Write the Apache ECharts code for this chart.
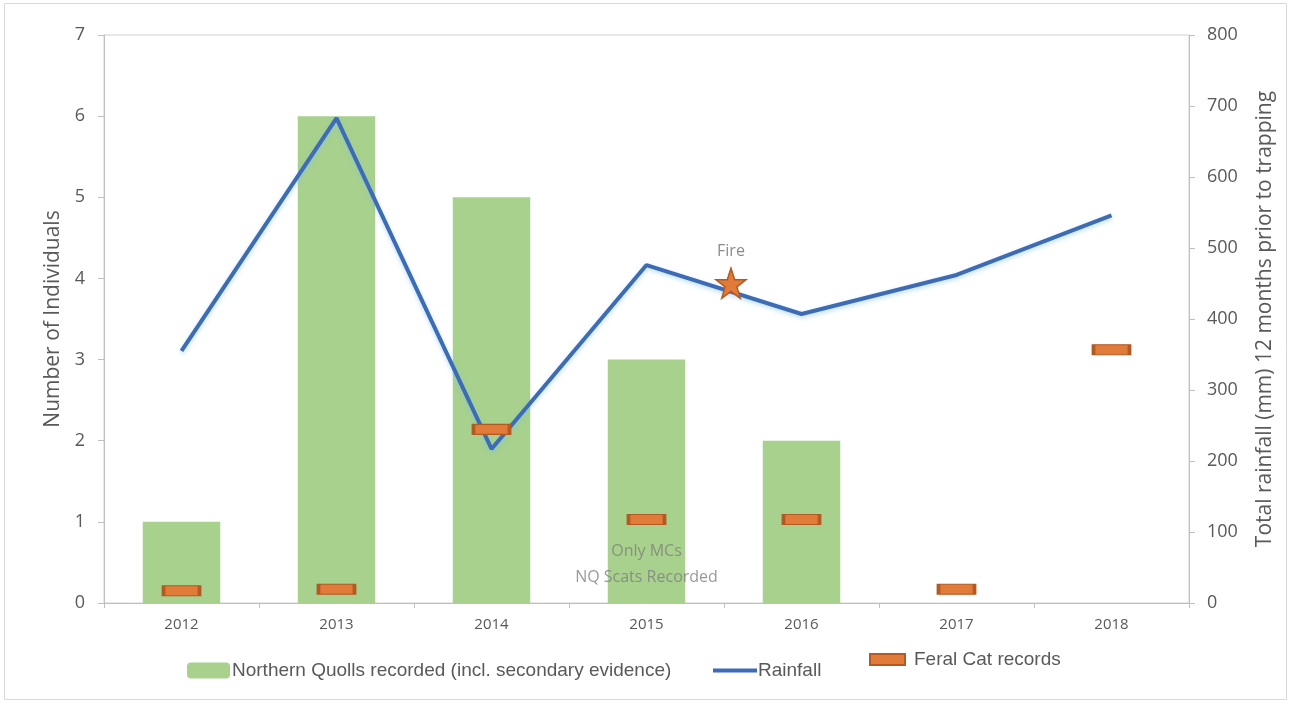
<!DOCTYPE html>
<html><head><meta charset="utf-8">
<script src="https://cdn.jsdelivr.net/npm/echarts@6/dist/echarts.min.js"></script>
<style>html,body{margin:0;padding:0;background:#fff}#c{width:1292px;height:704px}</style>
</head><body><div id="c"></div>
<script>
const years = ['2012','2013','2014','2015','2016','2017','2018'];
const quolls = [1, 6, 5, 3, 2, 0, 0];
const rainfall = [355, 683, 217, 476, 407, 462, 546];
const feralCats = [0.15, 0.17, 2.14, 1.03, 1.03, 0.17, 3.12];
const leftTicks = [0, 7, 1];
const rightTicks = [0, 800, 100];
const firePoint = [3.545, 3.94];
const notePoint = [3, 0.47];
const fireText = 'Fire';
const noteText = 'Only MCs\nNQ Scats Recorded';

const grey = '#595959';
const font = '"Open Sans", sans-serif';
const legFont = '"Liberation Sans", sans-serif';
const chart = echarts.init(document.getElementById('c'));
const star = 'path://M50,0 L61.8,34.5 L97.6,34.5 L68.8,56 L79.4,90.5 L50,69.5 L20.6,90.5 L31.2,56 L2.4,34.5 L38.2,34.5 Z';
chart.setOption({
  animation: false,
  textStyle: {fontFamily: font},
  graphic: [{type: 'rect', shape: {x: 4.5, y: 3.5, width: 1282, height: 696}, style: {fill: 'none', stroke: '#d9d9d9', lineWidth: 1}, silent: true}],
  grid: {left: 104, right: 103, top: 35, bottom: 101, show: true, borderColor: '#d0d0d0', borderWidth: 1},
  legend: [
    {left: 187, top: 661, padding: 0, itemWidth: 43, itemHeight: 16, data: ['Northern Quolls recorded (incl. secondary evidence)'],
      textStyle: {fontFamily: legFont, fontSize: 19, color: grey, padding: [0,0,0,-3]}},
    {left: 713, top: 661, padding: 0, itemWidth: 44, itemHeight: 4, data: [{name: 'Rainfall', icon: 'rect'}],
      textStyle: {fontFamily: legFont, fontSize: 19, color: grey, padding: [0,0,0,-4]}},
    {left: 869, top: 650, padding: 0, itemWidth: 35, itemHeight: 11, data: ['Feral Cat records'],
      textStyle: {fontFamily: legFont, fontSize: 19, color: grey, padding: [0,0,0,4]}}
  ],
  xAxis: [
    {type: 'category', data: years, boundaryGap: true,
      axisLine: {onZero: false, lineStyle: {color: '#bfbfbf', width: 1}},
      axisTick: {show: true, length: 5, lineStyle: {color: '#bfbfbf'}},
      axisLabel: {color: grey, fontSize: 15, margin: 14, fontFamily: font}},
    {type: 'value', min: -0.5, max: 6.5, show: false}
  ],
  yAxis: [
    {type: 'value', min: leftTicks[0], max: leftTicks[1], interval: leftTicks[2],
      name: 'Number of Individuals', nameLocation: 'middle', nameGap: 40, nameRotate: 90,
      nameTextStyle: {fontSize: 21, color: grey, fontFamily: font},
      axisLine: {show: true, onZero: false, lineStyle: {color: '#bfbfbf'}},
      axisTick: {show: true, length: 6, lineStyle: {color: '#bfbfbf'}},
      axisLabel: {color: grey, fontSize: 18, margin: 19},
      splitLine: {show: false}},
    {type: 'value', min: rightTicks[0], max: rightTicks[1], interval: rightTicks[2], position: 'right',
      name: 'Total rainfall (mm) 12 months prior to trapping', nameLocation: 'middle', nameGap: 66, nameRotate: 90,
      nameTextStyle: {fontSize: 21, color: grey, fontFamily: font},
      axisLine: {show: true, onZero: false, lineStyle: {color: '#bfbfbf'}},
      axisTick: {show: true, length: 6, lineStyle: {color: '#bfbfbf'}},
      axisLabel: {color: grey, fontSize: 18, margin: 18},
      splitLine: {show: false}}
  ],
  series: [
    {name: 'Northern Quolls recorded (incl. secondary evidence)', type: 'bar', data: quolls, barWidth: '50%',
      itemStyle: {color: '#a8d18d'}, z: 1},
    {name: 'Rainfall', type: 'line', yAxisIndex: 1, data: rainfall, symbol: 'none', showSymbol: false,
      lineStyle: {color: '#3d6cb5', width: 4, shadowColor: 'rgba(120,190,255,0.5)', shadowBlur: 4, shadowOffsetY: 2},
      itemStyle: {color: '#3d6cb5'}, z: 3},
    {name: 'Feral Cat records', type: 'scatter', data: feralCats, symbol: 'rect', symbolSize: [36, 10],
      itemStyle: {color: '#e07b39', borderColor: '#b25a22', borderWidth: 2, opacity: 1}, z: 5},
    {name: 'Fire', type: 'scatter', xAxisIndex: 1, data: [firePoint], symbol: star, symbolSize: 30,
      itemStyle: {color: '#e07b39', borderColor: '#b25a22', borderWidth: 1.5, opacity: 1},
      label: {show: true, position: 'top', distance: 8, formatter: fireText, color: '#8c8c8c', fontSize: 16, fontFamily: font}, z: 6},
    {name: 'note', type: 'scatter', xAxisIndex: 1, data: [notePoint], symbolSize: 0,
      label: {show: true, position: 'inside', formatter: noteText, color: '#7f7f7f', fontSize: 16, lineHeight: 26, fontFamily: font}, z: 6}
  ]
});
</script></body></html>
